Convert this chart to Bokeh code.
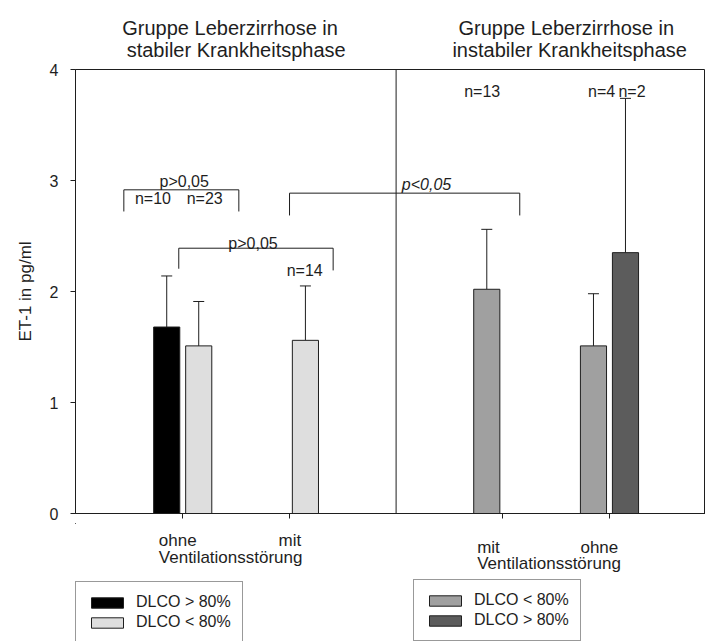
from bokeh.plotting import figure
from bokeh.layouts import column
from bokeh.models import (ColumnDataSource, Range1d, FixedTicker, Whisker, TeeHead,
                          Legend, LegendItem, Span)
from bokeh.core.properties import value
from bokeh.embed import file_html
from bokeh.resources import INLINE

FONT = "Liberation Sans"
INK = "#1e1e1e"

# ---------------- data ----------------
group_labels = ["ohne", "mit", "mit", "ohne"]       # Ventilationsstörung
group_pos = [1, 2, 4, 5]
divider_pos = 3
axis_word = "Ventilationsstörung"
phase_titles = [["Gruppe Leberzirrhose in", "stabiler Krankheitsphase"],
                ["Gruppe Leberzirrhose in", "instabiler Krankheitsphase"]]
y_ticks = [0, 1, 2, 3, 4]
y_title = "ET-1 in pg/ml"

# stabile Phase
stab_hi_name = "DLCO > 80%"
stab_hi_pos = [1]
stab_hi_mean = [1.68]
stab_hi_upper = [2.14]
stab_lo_name = "DLCO < 80%"
stab_lo_pos = [1, 2]
stab_lo_mean = [1.51, 1.56]
stab_lo_upper = [1.91, 2.05]
# instabile Phase
inst_lo_name = "DLCO < 80%"
inst_lo_pos = [4, 5]
inst_lo_mean = [2.02, 1.51]
inst_lo_upper = [2.56, 1.98]
inst_hi_name = "DLCO > 80%"
inst_hi_pos = [5]
inst_hi_mean = [2.35]
inst_hi_upper = [3.74]

n_labels = ["n=10", "n=23", "n=14", "n=13", "n=4", "n=2"]
p_labels = ["p>0,05", "p>0,05", "p<0,05"]

# ---------------- layout / annotation positions ----------------
n_x = [0.721, 1.206, 2.143, 3.807, 4.927, 5.211]
n_y = [2.835, 2.835, 2.189, 3.805, 3.805, 3.805]

br_x0 = [0.448, 0.963, 2.001]
br_x1 = [1.526, 2.41, 4.159]
br_top = [2.916, 2.390, 2.886]
br_leg0 = [2.721, 2.205, 2.685]
br_leg1 = [2.721, 2.190, 2.685]
p_x = [1.014, 1.659, 3.285]
p_y = [2.99, 2.435, 2.96]
p_style = ["normal", "normal", "italic"]

title_x = [[1.444, 1.501], [4.595, 4.627]]
title_y = [27, 49.5]                      # px from top of the title strip

TOP_H, MAIN_H = 61, 462
BOT_H = 641 - TOP_H - MAIN_H
BOT_TOP = TOP_H + MAIN_H                  # canvas y where the bottom strip starts

cat_x = [0.776, 1.898, 3.76, 4.728]
cat_y = [540 - BOT_TOP, 540 - BOT_TOP, 546.7 - BOT_TOP, 546.7 - BOT_TOP]
word_x = [0.776, 3.76]
word_y = [556.7 - BOT_TOP, 563 - BOT_TOP]

BAR_W = 0.245
OFF = 0.15
COLORS = ["#000000", "#dedede", "#a0a0a0", "#5c5c5c"]

xr = Range1d(-0.005, 5.9)


def strip(h):
    f = figure(width=705, height=h, x_range=xr, y_range=Range1d(h, 0), title=None,
               x_axis_type=None, y_axis_type=None,
               output_backend="svg", toolbar_location=None,
               min_border_left=75, min_border_right=0, min_border_top=0, min_border_bottom=0)
    f.xgrid.visible = False
    f.ygrid.visible = False
    f.outline_line_color = None
    return f


# ---------------- title strip ----------------
pt = strip(TOP_H)
for lines, xs in zip(phase_titles, title_x):
    pt.text(x=xs, y=title_y, text=lines, text_font=value(FONT), text_font_size="20px",
            text_align="center", text_baseline="alphabetic", text_color=INK)

# ---------------- main plot ----------------
p = figure(width=705, height=MAIN_H, x_range=xr, y_range=Range1d(0, 4), title=None,
           output_backend="svg", toolbar_location=None,
           min_border_left=75, min_border_right=0, min_border_top=8, min_border_bottom=10)
p.xgrid.visible = False
p.ygrid.visible = False
p.outline_line_color = INK
p.outline_line_alpha = 1.0

p.xaxis.ticker = FixedTicker(ticks=group_pos, minor_ticks=[])
p.xaxis.major_label_overrides = {t: " " for t in group_pos}
p.xaxis.major_label_text_font_size = "1px"
p.xaxis.major_label_text_alpha = 0
p.xaxis.major_label_standoff = 0
p.xaxis.major_tick_out = 5
p.xaxis.major_tick_in = 0
p.xaxis.minor_tick_line_color = None
p.xaxis.axis_line_color = INK
p.xaxis.major_tick_line_color = INK

p.yaxis.ticker = FixedTicker(ticks=y_ticks, minor_ticks=[])
p.yaxis.major_tick_out = 5
p.yaxis.major_tick_in = 0
p.yaxis.minor_tick_line_color = None
p.yaxis.axis_line_color = INK
p.yaxis.major_tick_line_color = INK
p.yaxis.major_label_standoff = 12
p.yaxis.major_label_text_font = FONT
p.yaxis.major_label_text_font_size = "16px"
p.yaxis.major_label_text_color = INK
p.yaxis.axis_label = y_title
p.yaxis.axis_label_text_font = FONT
p.yaxis.axis_label_text_font_size = "17px"
p.yaxis.axis_label_text_font_style = "normal"
p.yaxis.axis_label_text_color = INK
p.yaxis.axis_label_standoff = 12

p.add_layout(Span(location=divider_pos, dimension="height", line_color=INK, line_width=1))


def bars(pos, mean, upper, offset, color):
    src = ColumnDataSource(dict(x=[v + offset for v in pos], mean=mean, upper=upper))
    r = p.vbar(x="x", top="mean", bottom=0, width=BAR_W, source=src,
               fill_color=color, line_color=INK, line_width=1)
    w = Whisker(source=src, base="x", upper="upper", lower="mean", dimension="height",
                upper_head=TeeHead(size=11, line_color=INK, line_width=1),
                lower_head=None, line_color=INK, line_width=1)
    p.add_layout(w)
    return r


bars(stab_hi_pos, stab_hi_mean, stab_hi_upper, -OFF, COLORS[0])
bars(stab_lo_pos, stab_lo_mean, stab_lo_upper, OFF, COLORS[1])
bars(inst_lo_pos, inst_lo_mean, inst_lo_upper, -OFF, COLORS[2])
bars(inst_hi_pos, inst_hi_mean, inst_hi_upper, OFF, COLORS[3])

p.multi_line(xs=[[a, a, b, b] for a, b in zip(br_x0, br_x1)],
             ys=[[l0, t, t, l1] for l0, t, l1 in zip(br_leg0, br_top, br_leg1)],
             line_color=INK, line_width=1)

for txt, x, y, st in zip(p_labels, p_x, p_y, p_style):
    p.text(x=[x], y=[y], text=[txt], text_font=value(FONT), text_font_size="16px",
           text_font_style=st, text_align="center", text_baseline="alphabetic", text_color=INK)

p.text(x=n_x, y=n_y, text=n_labels, text_font=value(FONT), text_font_size="16px",
       text_align="center", text_baseline="alphabetic", text_color=INK)

# ---------------- bottom strip: category labels + legends ----------------
pb = strip(BOT_H)
pb.text(x=cat_x, y=cat_y, text=group_labels, text_font=value(FONT), text_font_size="17px",
        text_align="left", text_baseline="alphabetic", text_color=INK)
pb.text(x=word_x, y=word_y, text=[axis_word, axis_word], text_font=value(FONT),
        text_font_size="17px", text_align="left", text_baseline="alphabetic", text_color=INK)

# legend proxies: one bar each, placed far outside the visible ranges
swatch = [pb.vbar(x=[-50.0], top=[-500.0], bottom=-600.0, width=BAR_W, fill_color=c,
                  line_color=INK, line_width=1) for c in COLORS]


def legend(items, loc):
    lg = Legend(items=items, location=loc, orientation="vertical",
                border_line_color="#333333", border_line_width=1,
                background_fill_color="white", background_fill_alpha=1.0,
                padding=11, spacing=2, margin=0,
                glyph_width=40, glyph_height=13, label_standoff=9, label_height=13,
                label_text_font=FONT, label_text_font_size="16px", label_text_color=INK)
    pb.add_layout(lg, "center")


legend([LegendItem(label=stab_hi_name, renderers=[swatch[0]]),
        LegendItem(label=stab_lo_name, renderers=[swatch[1]])], (0, -2))
legend([LegendItem(label=inst_lo_name, renderers=[swatch[2]]),
        LegendItem(label=inst_hi_name, renderers=[swatch[3]])], (338, 0))

layout = column(pt, p, pb, spacing=0)

with open("out.html", "w", encoding="utf-8") as f:
    f.write(file_html(layout, INLINE))
